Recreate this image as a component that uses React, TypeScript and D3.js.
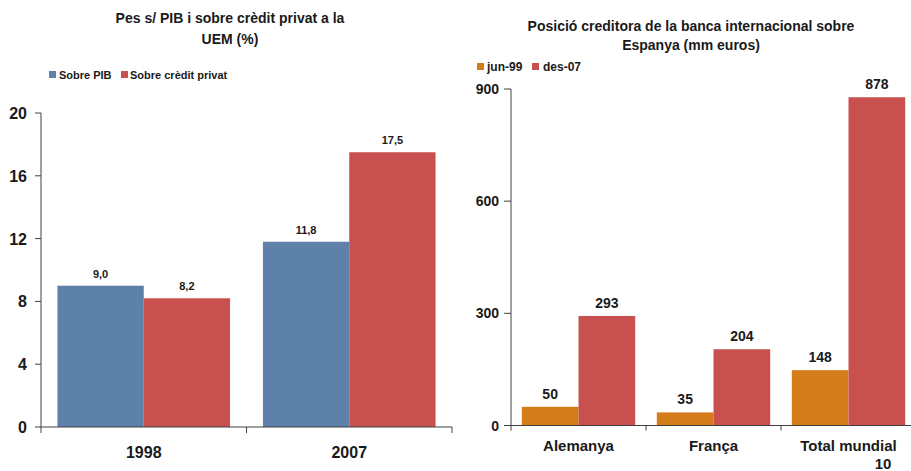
import React from "react";
import * as d3 from "d3";

const leftCategories = ["1998", "2007"];
const leftSeries = ["Sobre PIB", "Sobre crèdit privat"];
const leftPIB = [9.0, 11.8];
const leftCredit = [8.2, 17.5];
const leftTicks = [0, 4, 8, 12, 16, 20];

const rightCategories = ["Alemanya", "França", "Total mundial"];
const rightSeries = ["jun-99", "des-07"];
const rightJun99 = [50, 35, 148];
const rightDes07 = [293, 204, 878];
const rightTicks = [0, 300, 600, 900];

const BLUE = "#5E81AA";
const RED = "#C85150";
const ORANGE = "#D47B1A";
const AXIS = "#404040";
const FONT = "'Liberation Sans', Arial, sans-serif";

export default function App() {
  // Left chart
  const yL = d3.scaleLinear().domain([0, 20]).range([427, 113]);
  const xL = d3.scaleBand<string>().domain(leftCategories).range([41, 452]).padding(0);
  const bwL = xL.bandwidth();
  const x1L = d3.scaleBand<string>().domain(leftSeries).range([bwL * 0.08, bwL * 0.92]).padding(0);
  const leftData = leftSeries.map((s, i) => ({ s, vals: i === 0 ? leftPIB : leftCredit, color: i === 0 ? BLUE : RED }));
  const fmtL = (v: number) => d3.format(".1f")(v).replace(".", ",");

  // Right chart
  const yR = d3.scaleLinear().domain([0, 900]).range([425.5, 89]);
  const xR = d3.scaleBand<string>().domain(rightCategories).range([511, 916]).padding(0);
  const bwR = xR.bandwidth();
  const x1R = d3.scaleBand<string>().domain(rightSeries).range([bwR * 0.08, bwR * 0.92]).padding(0);
  const rightData = rightSeries.map((s, i) => ({ s, vals: i === 0 ? rightJun99 : rightDes07, color: i === 0 ? ORANGE : RED }));

  const catBoundsL = [...leftCategories.map((c) => xL(c)!), 452];
  const catBoundsR = [...rightCategories.map((c) => xR(c)!), 916];

  return (
    <svg width={911} height={471} style={{ position: "absolute", left: 0, top: 0, background: "#fff" }} fontFamily={FONT} fontWeight="bold">
      <rect x={0} y={0} width={911} height={471} fill="#fff" />
      {/* Left title */}
      <text x={230} y={23} textAnchor="middle" fontSize={14} fill="#1a1a1a">Pes s/ PIB i sobre crèdit privat a la</text>
      <text x={230} y={44} textAnchor="middle" fontSize={14} fill="#1a1a1a">UEM (%)</text>
      {/* Left legend */}
      <rect x={49} y={71} width={7} height={7} fill={BLUE} />
      <text x={59} y={79} fontSize={11} fill="#1a1a1a">Sobre PIB</text>
      <rect x={121} y={71} width={7} height={7} fill={RED} />
      <text x={130} y={79} fontSize={11} fill="#1a1a1a">Sobre crèdit privat</text>

      {/* Left bars */}
      {leftData.map((d) =>
        leftCategories.map((c, j) => {
          const x = xL(c)! + x1L(d.s)!;
          return (
            <g key={d.s + c}>
              <rect x={x} y={yL(d.vals[j])} width={x1L.bandwidth()} height={yL(0) - yL(d.vals[j])} fill={d.color} />
              <text x={x + x1L.bandwidth() / 2} y={yL(d.vals[j]) - 8} textAnchor="middle" fontSize={11} fill="#1a1a1a">{fmtL(d.vals[j])}</text>
            </g>
          );
        })
      )}
      {/* Left axes */}
      <line x1={41} x2={41} y1={yL(20)} y2={yL(0)} stroke={AXIS} strokeWidth={1} />
      {leftTicks.map((t) => (
        <g key={t}>
          <line x1={35} x2={41} y1={yL(t)} y2={yL(t)} stroke={AXIS} />
          <text x={27} y={yL(t) + 6} textAnchor="end" fontSize={16} fill="#1a1a1a">{t}</text>
        </g>
      ))}
      <line x1={41} x2={452} y1={yL(0)} y2={yL(0)} stroke={AXIS} />
      {catBoundsL.map((b, i) => (
        <line key={i} x1={b} x2={b} y1={yL(0)} y2={yL(0) + 6} stroke={AXIS} />
      ))}
      {leftCategories.map((c) => (
        <text key={c} x={xL(c)! + bwL / 2} y={458} textAnchor="middle" fontSize={16} fill="#1a1a1a">{c}</text>
      ))}

      {/* Right title */}
      <text x={691} y={31} textAnchor="middle" fontSize={14} fill="#1a1a1a">Posició creditora de la banca internacional sobre</text>
      <text x={691} y={50} textAnchor="middle" fontSize={14} fill="#1a1a1a">Espanya (mm euros)</text>
      {/* Right legend */}
      <rect x={477} y={63} width={7} height={7} fill={ORANGE} />
      <text x={487} y={71} fontSize={12} fill="#1a1a1a">jun-99</text>
      <rect x={532} y={63} width={7} height={7} fill={RED} />
      <text x={543} y={71} fontSize={12} fill="#1a1a1a">des-07</text>

      {/* Right bars */}
      {rightData.map((d) =>
        rightCategories.map((c, j) => {
          const x = xR(c)! + x1R(d.s)!;
          return (
            <g key={d.s + c}>
              <rect x={x} y={yR(d.vals[j])} width={x1R.bandwidth()} height={yR(0) - yR(d.vals[j])} fill={d.color} />
              <text x={x + x1R.bandwidth() / 2} y={yR(d.vals[j]) - 8} textAnchor="middle" fontSize={14} fill="#1a1a1a">{d.vals[j]}</text>
            </g>
          );
        })
      )}
      {/* Right axes */}
      <line x1={511} x2={511} y1={yR(900)} y2={yR(0)} stroke={AXIS} />
      {rightTicks.map((t) => (
        <g key={t}>
          <line x1={504} x2={511} y1={yR(t)} y2={yR(t)} stroke={AXIS} />
          <text x={499} y={yR(t) + 5} textAnchor="end" fontSize={14} fill="#1a1a1a">{t}</text>
        </g>
      ))}
      <line x1={511} x2={916} y1={yR(0)} y2={yR(0)} stroke={AXIS} />
      {catBoundsR.map((b, i) => (
        <line key={i} x1={b} x2={b} y1={yR(0)} y2={yR(0) + 5} stroke={AXIS} />
      ))}
      {rightCategories.map((c) => (
        <text key={c} x={xR(c)! + bwR / 2 + (c === "Total mundial" ? 0 : 0)} y={451} textAnchor="middle" fontSize={15} fill="#1a1a1a">{c}</text>
      ))}
      <text x={883} y={469} textAnchor="middle" fontSize={15} fill="#1a1a1a">10</text>
    </svg>
  );
}
